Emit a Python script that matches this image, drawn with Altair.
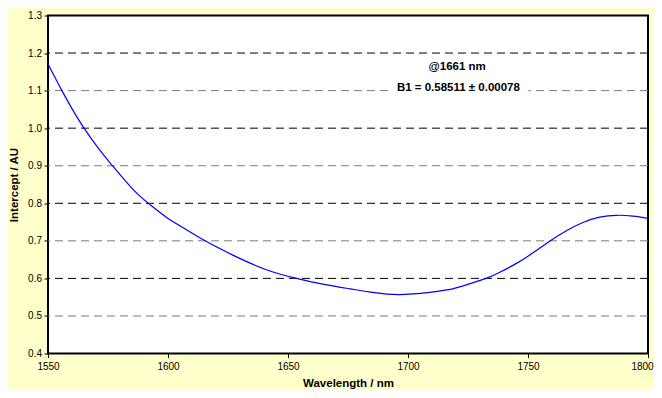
import altair as alt
import pandas as pd

# Curve
wavelength = [1550, 1555.8, 1560, 1565, 1571.5, 1577, 1585.4, 1592.4, 1599.3, 1606.3,
              1615.5, 1627, 1641, 1653.5, 1665, 1676, 1686, 1696.5, 1709, 1717,
              1723, 1732.6, 1738.2, 1745.2, 1752.1, 1759, 1766, 1772.9, 1779.9,
              1786.8, 1793.7, 1800]
intercept = [1.171, 1.10, 1.052, 1.00, 0.942, 0.899, 0.837, 0.797, 0.763, 0.735,
             0.70, 0.662, 0.623, 0.60, 0.584, 0.572, 0.562, 0.557, 0.563, 0.570,
             0.580, 0.60, 0.616, 0.640, 0.668, 0.699, 0.727, 0.749, 0.763,
             0.768, 0.766, 0.760]

# Gridlines
grid_values = [1.2, 1.1, 1.0, 0.9, 0.8, 0.7, 0.6, 0.5]
grid_tone = ["dark", "light", "dark", "light", "dark", "light", "dark", "light"]

# Axis ticks
x_ticks = [1550, 1600, 1650, 1700, 1750, 1800]
y_ticks = [0.4, 0.5, 0.6, 0.7, 0.8, 0.9, 1.0, 1.1, 1.2, 1.3]

# Annotation
note_x = [1720.5, 1721]
note_y = [1.164, 1.106]
note_text = ["@1661 nm", "B1 = 0.58511 \u00b1 0.00078"]
box_x = [1721]
box_y = [1.1043]

FONT = "Liberation Sans"

curve = pd.DataFrame({"wl": wavelength, "val": intercept})
grid = pd.DataFrame({"val": grid_values, "tone": grid_tone})
notes = pd.DataFrame({"wl": note_x, "val": note_y, "label": note_text})
box = pd.DataFrame({"wl": box_x, "val": box_y})

xscale = alt.Scale(domain=[1550, 1800], nice=False, zero=False)
yscale = alt.Scale(domain=[0.4, 1.3], nice=False, zero=False)

xaxis = alt.Axis(values=x_ticks, format="d", title="Wavelength / nm",
                 grid=False, domain=False, tickSize=4, tickColor="black",
                 labelFontSize=10, labelPadding=3.5, labelColor="black",
                 labelFlush=False, labelOverlap=False, labelBound=False,
                 labelOffset={"condition": {"test": "datum.value == 1800", "value": -6},
                              "value": 0},
                 titleFontSize=11.5, titleFontWeight="bold", titleColor="black",
                 titleX=300, titleY=29.5, titleBaseline="middle", titleAlign="center",
                 labelFont=FONT, titleFont=FONT)
yaxis = alt.Axis(values=y_ticks, format=".1f", title="Intercept / AU",
                 grid=False, domain=False, tickSize=4, tickColor="black",
                 labelFontSize=10, labelPadding=2.5, labelColor="black",
                 labelFlush=False, labelOverlap=False, labelBound=False,
                 titleFontSize=11.5, titleFontWeight="bold", titleColor="black",
                 titleX=-34, titleY=169, titleAngle=270, titleBaseline="middle",
                 titleAlign="center", labelFont=FONT, titleFont=FONT)

X = alt.X("wl:Q", scale=xscale, axis=xaxis)
Y = alt.Y("val:Q", scale=yscale, axis=yaxis)

rules = alt.Chart(grid).mark_rule(strokeDash=[8, 5], strokeWidth=1).encode(
    y=Y,
    color=alt.Color("tone:N", scale=alt.Scale(domain=["dark", "light"],
                                              range=["#000000", "#7a7a7a"]),
                    legend=None),
)

bg = alt.Chart(box).mark_point(shape="M-1,-0.1H1V0.1H-1Z", size=19600, filled=True,
                               fill="white", opacity=1, strokeWidth=0).encode(
    x=X, y=Y,
)

texts = alt.Chart(notes).mark_text(font=FONT, fontSize=11.5, fontWeight="bold",
                                   align="center", baseline="middle",
                                   color="black").encode(
    x=X, y=Y, text="label:N",
)

line = alt.Chart(curve).mark_line(color="#0000FF", strokeWidth=1.2,
                                  interpolate="natural").encode(
    x=X, y=Y,
)

chart = alt.layer(rules, bg, texts, line).properties(
    width=600, height=338,
    autosize=alt.AutoSizeParams(type="none"),
    padding={"left": 40, "top": 7.5, "right": 6, "bottom": 36.5},
    background="#FFFFCC",
    title=alt.TitleParams("Intercept", font=FONT, fontSize=11.5, fontWeight="bold",
                          color="black", offset=4.5, dx=-13, anchor="middle",
                          baseline="bottom"),
).configure_view(
    stroke="black", strokeWidth=2, fill="white"
).configure_axis(
    labelOverlap=False, labelFlush=False
)

chart.save("out.html", embed_options={"renderer": "svg", "actions": False})
